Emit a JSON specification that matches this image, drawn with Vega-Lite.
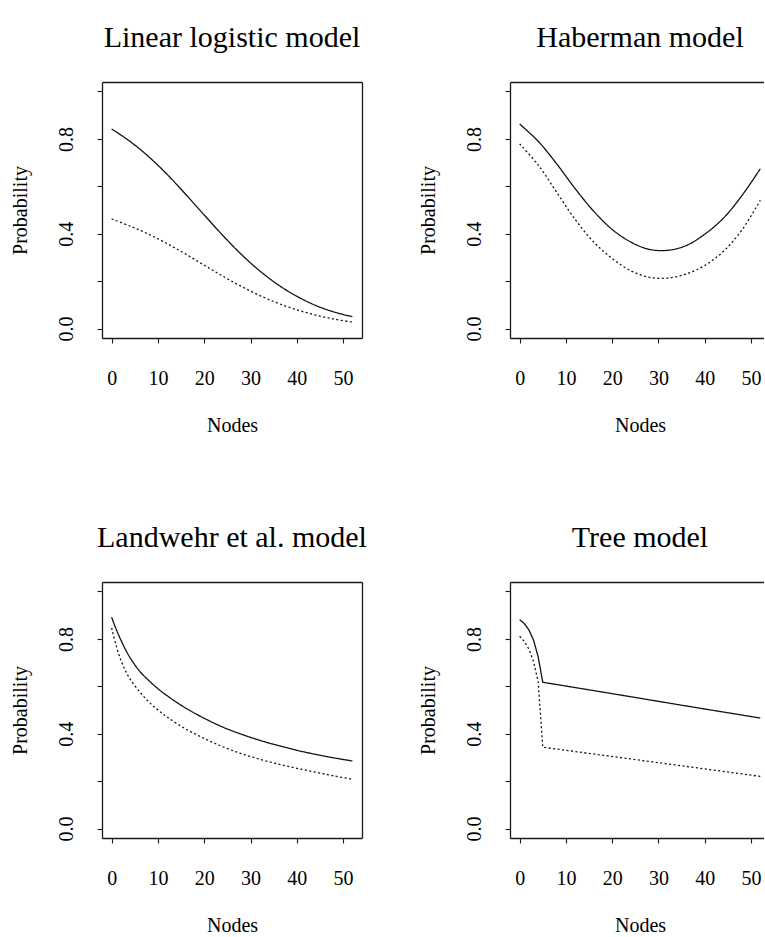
{
  "$schema": "https://vega.github.io/schema/vega-lite/v6.json",
  "background": "white",
  "padding": {"left": 10, "top": 23, "right": 0, "bottom": 0},
  "bounds": "flush",
  "columns": 2,
  "spacing": {"row": 244, "column": 148},
  "config": {
    "font": "Liberation Serif",
    "view": {"stroke": null},
    "axis": {
      "grid": false,
      "domainColor": "#1a1a1a",
      "tickColor": "#1a1a1a",
      "domainWidth": 1.3,
      "tickWidth": 1.1,
      "tickSize": 5,
      "labelFont": "Liberation Serif",
      "labelFontSize": 20,
      "labelColor": "#000000",
      "titleFont": "Liberation Serif",
      "titleFontSize": 20,
      "titleFontWeight": "normal",
      "titleColor": "#000000"
    },
    "title": {
      "font": "Liberation Serif",
      "fontSize": 30,
      "fontWeight": "normal",
      "color": "#000000",
      "baseline": "alphabetic",
      "offset": 29,
      "anchor": "middle"
    }
  },
  "datasets": {
    "curves": [
      {"panel": "Linear logistic model", "group": "1", "nodes": 0, "p": 0.842},
      {"panel": "Linear logistic model", "group": "1", "nodes": 4, "p": 0.789},
      {"panel": "Linear logistic model", "group": "1", "nodes": 8, "p": 0.725},
      {"panel": "Linear logistic model", "group": "1", "nodes": 12, "p": 0.650},
      {"panel": "Linear logistic model", "group": "1", "nodes": 16, "p": 0.566},
      {"panel": "Linear logistic model", "group": "1", "nodes": 20, "p": 0.479},
      {"panel": "Linear logistic model", "group": "1", "nodes": 24, "p": 0.393},
      {"panel": "Linear logistic model", "group": "1", "nodes": 28, "p": 0.313},
      {"panel": "Linear logistic model", "group": "1", "nodes": 32, "p": 0.243},
      {"panel": "Linear logistic model", "group": "1", "nodes": 36, "p": 0.184},
      {"panel": "Linear logistic model", "group": "1", "nodes": 40, "p": 0.136},
      {"panel": "Linear logistic model", "group": "1", "nodes": 44, "p": 0.098},
      {"panel": "Linear logistic model", "group": "1", "nodes": 48, "p": 0.070},
      {"panel": "Linear logistic model", "group": "1", "nodes": 52, "p": 0.050},
      {"panel": "Linear logistic model", "group": "2", "nodes": 0, "p": 0.462},
      {"panel": "Linear logistic model", "group": "2", "nodes": 4, "p": 0.432},
      {"panel": "Linear logistic model", "group": "2", "nodes": 8, "p": 0.398},
      {"panel": "Linear logistic model", "group": "2", "nodes": 12, "p": 0.358},
      {"panel": "Linear logistic model", "group": "2", "nodes": 16, "p": 0.314},
      {"panel": "Linear logistic model", "group": "2", "nodes": 20, "p": 0.267},
      {"panel": "Linear logistic model", "group": "2", "nodes": 24, "p": 0.221},
      {"panel": "Linear logistic model", "group": "2", "nodes": 28, "p": 0.178},
      {"panel": "Linear logistic model", "group": "2", "nodes": 32, "p": 0.139},
      {"panel": "Linear logistic model", "group": "2", "nodes": 36, "p": 0.106},
      {"panel": "Linear logistic model", "group": "2", "nodes": 40, "p": 0.079},
      {"panel": "Linear logistic model", "group": "2", "nodes": 44, "p": 0.057},
      {"panel": "Linear logistic model", "group": "2", "nodes": 48, "p": 0.040},
      {"panel": "Linear logistic model", "group": "2", "nodes": 52, "p": 0.027},

      {"panel": "Haberman model", "group": "1", "nodes": 0, "p": 0.863},
      {"panel": "Haberman model", "group": "1", "nodes": 4, "p": 0.790},
      {"panel": "Haberman model", "group": "1", "nodes": 8, "p": 0.695},
      {"panel": "Haberman model", "group": "1", "nodes": 12, "p": 0.590},
      {"panel": "Haberman model", "group": "1", "nodes": 16, "p": 0.495},
      {"panel": "Haberman model", "group": "1", "nodes": 20, "p": 0.418},
      {"panel": "Haberman model", "group": "1", "nodes": 24, "p": 0.365},
      {"panel": "Haberman model", "group": "1", "nodes": 28, "p": 0.334},
      {"panel": "Haberman model", "group": "1", "nodes": 32, "p": 0.330},
      {"panel": "Haberman model", "group": "1", "nodes": 36, "p": 0.350},
      {"panel": "Haberman model", "group": "1", "nodes": 40, "p": 0.398},
      {"panel": "Haberman model", "group": "1", "nodes": 44, "p": 0.465},
      {"panel": "Haberman model", "group": "1", "nodes": 48, "p": 0.560},
      {"panel": "Haberman model", "group": "1", "nodes": 52, "p": 0.674},
      {"panel": "Haberman model", "group": "2", "nodes": 0, "p": 0.779},
      {"panel": "Haberman model", "group": "2", "nodes": 4, "p": 0.690},
      {"panel": "Haberman model", "group": "2", "nodes": 8, "p": 0.575},
      {"panel": "Haberman model", "group": "2", "nodes": 12, "p": 0.460},
      {"panel": "Haberman model", "group": "2", "nodes": 16, "p": 0.365},
      {"panel": "Haberman model", "group": "2", "nodes": 20, "p": 0.295},
      {"panel": "Haberman model", "group": "2", "nodes": 24, "p": 0.244},
      {"panel": "Haberman model", "group": "2", "nodes": 28, "p": 0.216},
      {"panel": "Haberman model", "group": "2", "nodes": 32, "p": 0.213},
      {"panel": "Haberman model", "group": "2", "nodes": 36, "p": 0.230},
      {"panel": "Haberman model", "group": "2", "nodes": 40, "p": 0.266},
      {"panel": "Haberman model", "group": "2", "nodes": 44, "p": 0.325},
      {"panel": "Haberman model", "group": "2", "nodes": 48, "p": 0.415},
      {"panel": "Haberman model", "group": "2", "nodes": 52, "p": 0.541},

      {"panel": "Landwehr et al. model", "group": "1", "nodes": 0, "p": 0.891},
      {"panel": "Landwehr et al. model", "group": "1", "nodes": 1, "p": 0.840},
      {"panel": "Landwehr et al. model", "group": "1", "nodes": 2, "p": 0.795},
      {"panel": "Landwehr et al. model", "group": "1", "nodes": 3, "p": 0.755},
      {"panel": "Landwehr et al. model", "group": "1", "nodes": 4, "p": 0.720},
      {"panel": "Landwehr et al. model", "group": "1", "nodes": 6, "p": 0.665},
      {"panel": "Landwehr et al. model", "group": "1", "nodes": 8, "p": 0.625},
      {"panel": "Landwehr et al. model", "group": "1", "nodes": 10, "p": 0.590},
      {"panel": "Landwehr et al. model", "group": "1", "nodes": 12, "p": 0.560},
      {"panel": "Landwehr et al. model", "group": "1", "nodes": 16, "p": 0.508},
      {"panel": "Landwehr et al. model", "group": "1", "nodes": 20, "p": 0.465},
      {"panel": "Landwehr et al. model", "group": "1", "nodes": 24, "p": 0.428},
      {"panel": "Landwehr et al. model", "group": "1", "nodes": 28, "p": 0.398},
      {"panel": "Landwehr et al. model", "group": "1", "nodes": 32, "p": 0.372},
      {"panel": "Landwehr et al. model", "group": "1", "nodes": 36, "p": 0.350},
      {"panel": "Landwehr et al. model", "group": "1", "nodes": 40, "p": 0.330},
      {"panel": "Landwehr et al. model", "group": "1", "nodes": 44, "p": 0.313},
      {"panel": "Landwehr et al. model", "group": "1", "nodes": 48, "p": 0.298},
      {"panel": "Landwehr et al. model", "group": "1", "nodes": 52, "p": 0.285},
      {"panel": "Landwehr et al. model", "group": "2", "nodes": 0, "p": 0.846},
      {"panel": "Landwehr et al. model", "group": "2", "nodes": 1, "p": 0.770},
      {"panel": "Landwehr et al. model", "group": "2", "nodes": 2, "p": 0.710},
      {"panel": "Landwehr et al. model", "group": "2", "nodes": 3, "p": 0.665},
      {"panel": "Landwehr et al. model", "group": "2", "nodes": 4, "p": 0.630},
      {"panel": "Landwehr et al. model", "group": "2", "nodes": 6, "p": 0.578},
      {"panel": "Landwehr et al. model", "group": "2", "nodes": 8, "p": 0.535},
      {"panel": "Landwehr et al. model", "group": "2", "nodes": 10, "p": 0.500},
      {"panel": "Landwehr et al. model", "group": "2", "nodes": 12, "p": 0.470},
      {"panel": "Landwehr et al. model", "group": "2", "nodes": 16, "p": 0.420},
      {"panel": "Landwehr et al. model", "group": "2", "nodes": 20, "p": 0.380},
      {"panel": "Landwehr et al. model", "group": "2", "nodes": 24, "p": 0.345},
      {"panel": "Landwehr et al. model", "group": "2", "nodes": 28, "p": 0.316},
      {"panel": "Landwehr et al. model", "group": "2", "nodes": 32, "p": 0.292},
      {"panel": "Landwehr et al. model", "group": "2", "nodes": 36, "p": 0.272},
      {"panel": "Landwehr et al. model", "group": "2", "nodes": 40, "p": 0.254},
      {"panel": "Landwehr et al. model", "group": "2", "nodes": 44, "p": 0.238},
      {"panel": "Landwehr et al. model", "group": "2", "nodes": 48, "p": 0.222},
      {"panel": "Landwehr et al. model", "group": "2", "nodes": 52, "p": 0.208},

      {"panel": "Tree model", "group": "1", "nodes": 0, "p": 0.881},
      {"panel": "Tree model", "group": "1", "nodes": 1, "p": 0.865},
      {"panel": "Tree model", "group": "1", "nodes": 2, "p": 0.838},
      {"panel": "Tree model", "group": "1", "nodes": 3, "p": 0.795},
      {"panel": "Tree model", "group": "1", "nodes": 4, "p": 0.725},
      {"panel": "Tree model", "group": "1", "nodes": 5, "p": 0.617},
      {"panel": "Tree model", "group": "1", "nodes": 20, "p": 0.569},
      {"panel": "Tree model", "group": "1", "nodes": 36, "p": 0.517},
      {"panel": "Tree model", "group": "1", "nodes": 52, "p": 0.466},
      {"panel": "Tree model", "group": "2", "nodes": 0, "p": 0.811},
      {"panel": "Tree model", "group": "2", "nodes": 1, "p": 0.790},
      {"panel": "Tree model", "group": "2", "nodes": 2, "p": 0.757},
      {"panel": "Tree model", "group": "2", "nodes": 3, "p": 0.705},
      {"panel": "Tree model", "group": "2", "nodes": 4, "p": 0.620},
      {"panel": "Tree model", "group": "2", "nodes": 5, "p": 0.343},
      {"panel": "Tree model", "group": "2", "nodes": 20, "p": 0.304},
      {"panel": "Tree model", "group": "2", "nodes": 36, "p": 0.262},
      {"panel": "Tree model", "group": "2", "nodes": 52, "p": 0.220}
    ]
  },
  "concat": [
    {
      "width": 260, "height": 256,
      "title": {"text": "Linear logistic model"},
      "data": {"name": "curves"},
      "transform": [{"filter": "datum.panel == 'Linear logistic model'"}],
      "layer": [
        {
          "mark": {"type": "line", "interpolate": "catmull-rom", "color": "#111111", "strokeWidth": 1.3},
          "encoding": {
            "x": {"field": "nodes", "type": "quantitative", "scale": {"domain": [-2.08, 54.08], "nice": false, "zero": false},
              "axis": {"orient": "bottom", "values": [0, 10, 20, 30, 40, 50], "labelFlush": false, "labelOverlap": false, "labelBaseline": "alphabetic", "labelPadding": 41, "title": "Nodes", "titleX": 130, "titleY": 93, "titleBaseline": "alphabetic", "titleAlign": "center", "titleAnchor": null}},
            "y": {"field": "p", "type": "quantitative", "scale": {"domain": [-0.04, 1.04], "nice": false, "zero": false},
              "axis": {"orient": "left", "values": [0, 0.2, 0.4, 0.6, 0.8, 1.0], "labelExpr": "round(datum.value*10) % 4 == 0 ? format(datum.value, '.1f') : ''", "labelAngle": 270, "labelAlign": "center", "labelBaseline": "alphabetic", "labelPadding": 25, "labelFlush": false, "labelOverlap": false, "title": "Probability", "titleAngle": 270, "titleX": -76, "titleY": 128, "titleBaseline": "alphabetic", "titleAlign": "center"}},
            "strokeDash": {"field": "group", "type": "nominal", "scale": {"domain": ["1", "2"], "range": [[1, 0], [2, 2.5]]}, "legend": null}
          }
        },
        {
          "mark": {"type": "line", "opacity": 0},
          "encoding": {
            "x": {"field": "nodes", "type": "quantitative", "axis": {"orient": "top", "ticks": false, "labels": false, "title": null, "domain": true}},
            "y": {"field": "p", "type": "quantitative", "axis": {"orient": "right", "ticks": false, "labels": false, "title": null, "domain": true}},
            "detail": {"field": "group"}
          }
        }
      ],
      "resolve": {"axis": {"x": "independent", "y": "independent"}}
    },
    {
      "width": 254, "height": 256,
      "title": {"text": "Haberman model", "dx": 3},
      "data": {"name": "curves"},
      "transform": [{"filter": "datum.panel == 'Haberman model'"}],
      "layer": [
        {
          "mark": {"type": "line", "interpolate": "catmull-rom", "color": "#111111", "strokeWidth": 1.3},
          "encoding": {
            "x": {"field": "nodes", "type": "quantitative", "scale": {"domain": [-2.08, 52.8], "nice": false, "zero": false},
              "axis": {"orient": "bottom", "values": [0, 10, 20, 30, 40, 50], "labelFlush": false, "labelOverlap": false, "labelBaseline": "alphabetic", "labelPadding": 41, "title": "Nodes", "titleX": 130, "titleY": 93, "titleBaseline": "alphabetic", "titleAlign": "center", "titleAnchor": null}},
            "y": {"field": "p", "type": "quantitative", "scale": {"domain": [-0.04, 1.04], "nice": false, "zero": false},
              "axis": {"orient": "left", "values": [0, 0.2, 0.4, 0.6, 0.8, 1.0], "labelExpr": "round(datum.value*10) % 4 == 0 ? format(datum.value, '.1f') : ''", "labelAngle": 270, "labelAlign": "center", "labelBaseline": "alphabetic", "labelPadding": 25, "labelFlush": false, "labelOverlap": false, "title": "Probability", "titleAngle": 270, "titleX": -76, "titleY": 128, "titleBaseline": "alphabetic", "titleAlign": "center"}},
            "strokeDash": {"field": "group", "type": "nominal", "scale": {"domain": ["1", "2"], "range": [[1, 0], [2, 2.5]]}, "legend": null}
          }
        },
        {
          "mark": {"type": "line", "opacity": 0},
          "encoding": {
            "x": {"field": "nodes", "type": "quantitative", "axis": {"orient": "top", "ticks": false, "labels": false, "title": null, "domain": true}},
            "y": {"field": "p", "type": "quantitative", "axis": null},
            "detail": {"field": "group"}
          }
        }
      ],
      "resolve": {"axis": {"x": "independent", "y": "independent"}}
    },
    {
      "width": 260, "height": 256,
      "title": {"text": "Landwehr et al. model"},
      "data": {"name": "curves"},
      "transform": [{"filter": "datum.panel == 'Landwehr et al. model'"}],
      "layer": [
        {
          "mark": {"type": "line", "interpolate": "catmull-rom", "color": "#111111", "strokeWidth": 1.3},
          "encoding": {
            "x": {"field": "nodes", "type": "quantitative", "scale": {"domain": [-2.08, 54.08], "nice": false, "zero": false},
              "axis": {"orient": "bottom", "values": [0, 10, 20, 30, 40, 50], "labelFlush": false, "labelOverlap": false, "labelBaseline": "alphabetic", "labelPadding": 41, "title": "Nodes", "titleX": 130, "titleY": 93, "titleBaseline": "alphabetic", "titleAlign": "center", "titleAnchor": null}},
            "y": {"field": "p", "type": "quantitative", "scale": {"domain": [-0.04, 1.04], "nice": false, "zero": false},
              "axis": {"orient": "left", "values": [0, 0.2, 0.4, 0.6, 0.8, 1.0], "labelExpr": "round(datum.value*10) % 4 == 0 ? format(datum.value, '.1f') : ''", "labelAngle": 270, "labelAlign": "center", "labelBaseline": "alphabetic", "labelPadding": 25, "labelFlush": false, "labelOverlap": false, "title": "Probability", "titleAngle": 270, "titleX": -76, "titleY": 128, "titleBaseline": "alphabetic", "titleAlign": "center"}},
            "strokeDash": {"field": "group", "type": "nominal", "scale": {"domain": ["1", "2"], "range": [[1, 0], [2, 2.5]]}, "legend": null}
          }
        },
        {
          "mark": {"type": "line", "opacity": 0},
          "encoding": {
            "x": {"field": "nodes", "type": "quantitative", "axis": {"orient": "top", "ticks": false, "labels": false, "title": null, "domain": true}},
            "y": {"field": "p", "type": "quantitative", "axis": {"orient": "right", "ticks": false, "labels": false, "title": null, "domain": true}},
            "detail": {"field": "group"}
          }
        }
      ],
      "resolve": {"axis": {"x": "independent", "y": "independent"}}
    },
    {
      "width": 254, "height": 256,
      "title": {"text": "Tree model", "dx": 3},
      "data": {"name": "curves"},
      "transform": [{"filter": "datum.panel == 'Tree model'"}],
      "layer": [
        {
          "mark": {"type": "line", "interpolate": "linear", "color": "#111111", "strokeWidth": 1.3},
          "encoding": {
            "x": {"field": "nodes", "type": "quantitative", "scale": {"domain": [-2.08, 52.8], "nice": false, "zero": false},
              "axis": {"orient": "bottom", "values": [0, 10, 20, 30, 40, 50], "labelFlush": false, "labelOverlap": false, "labelBaseline": "alphabetic", "labelPadding": 41, "title": "Nodes", "titleX": 130, "titleY": 93, "titleBaseline": "alphabetic", "titleAlign": "center", "titleAnchor": null}},
            "y": {"field": "p", "type": "quantitative", "scale": {"domain": [-0.04, 1.04], "nice": false, "zero": false},
              "axis": {"orient": "left", "values": [0, 0.2, 0.4, 0.6, 0.8, 1.0], "labelExpr": "round(datum.value*10) % 4 == 0 ? format(datum.value, '.1f') : ''", "labelAngle": 270, "labelAlign": "center", "labelBaseline": "alphabetic", "labelPadding": 25, "labelFlush": false, "labelOverlap": false, "title": "Probability", "titleAngle": 270, "titleX": -76, "titleY": 128, "titleBaseline": "alphabetic", "titleAlign": "center"}},
            "strokeDash": {"field": "group", "type": "nominal", "scale": {"domain": ["1", "2"], "range": [[1, 0], [2, 2.5]]}, "legend": null}
          }
        },
        {
          "mark": {"type": "line", "opacity": 0},
          "encoding": {
            "x": {"field": "nodes", "type": "quantitative", "axis": {"orient": "top", "ticks": false, "labels": false, "title": null, "domain": true}},
            "y": {"field": "p", "type": "quantitative", "axis": null},
            "detail": {"field": "group"}
          }
        }
      ],
      "resolve": {"axis": {"x": "independent", "y": "independent"}}
    }
  ]
}
